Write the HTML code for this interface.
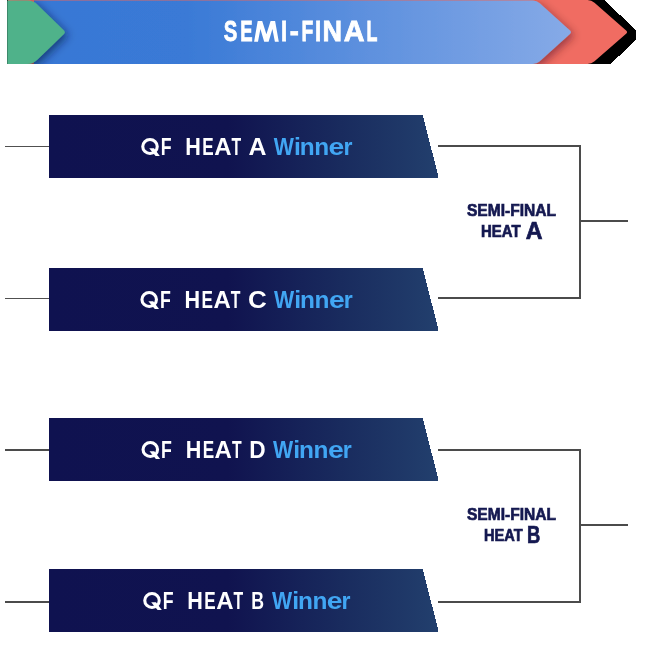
<!DOCTYPE html>
<html><head><meta charset="utf-8">
<style>
html,body{margin:0;padding:0;background:#fff;width:646px;height:672px;overflow:hidden}
svg{display:block;will-change:transform}
text{font-family:"Liberation Sans",sans-serif;font-weight:bold}
</style></head><body>
<svg width="646" height="672" viewBox="0 0 646 672">
<defs>
<linearGradient id="gb" gradientUnits="userSpaceOnUse" x1="7" y1="0" x2="571" y2="0">
<stop offset="0" stop-color="#3877d5"/>
<stop offset="0.32" stop-color="#3a7ad6"/>
<stop offset="1" stop-color="#86aae7"/>
</linearGradient>
<linearGradient id="gn" x1="0" y1="0" x2="1" y2="0">
<stop offset="0" stop-color="#0f1250"/>
<stop offset="0.46" stop-color="#10134f"/>
<stop offset="0.75" stop-color="#192b5e"/>
<stop offset="1" stop-color="#223f6d"/>
</linearGradient>
<filter id="sh" x="-20%" y="-20%" width="150%" height="150%">
<feGaussianBlur in="SourceAlpha" stdDeviation="4"/>
<feOffset dx="3" dy="3" result="b"/>
<feFlood flood-color="#0a1a40" flood-opacity="0.6"/>
<feComposite in2="b" operator="in"/>
<feMerge><feMergeNode/><feMergeNode in="SourceGraphic"/></feMerge>
</filter>
<filter id="sh2" x="-20%" y="-20%" width="150%" height="150%">
<feGaussianBlur in="SourceAlpha" stdDeviation="4"/>
<feOffset dx="3" dy="2.5" result="b"/>
<feFlood flood-color="#3a0a20" flood-opacity="0.45"/>
<feComposite in2="b" operator="in"/>
<feMerge><feMergeNode/><feMergeNode in="SourceGraphic"/></feMerge>
</filter>
<clipPath id="hc"><rect x="7" y="0" width="640" height="64"/></clipPath>
</defs>
<polygon points="7,0 604.5,0 636,30.5 636,40 610.5,64 7,64" fill="#000" shape-rendering="crispEdges"/>
<g clip-path="url(#hc)">
<path d="M8,0.1 H587.50 Q591.50,0.10 594.50,2.74 L626.12,30.55 Q628.00,32.20 626.12,33.84 L594.52,61.37 Q591.50,64.00 587.50,64.00 H8 Z" fill="#f06c62"/>
<path d="M34,0.5 H532.80 Q536.80,0.50 539.76,3.19 L569.95,30.52 Q571.80,32.20 569.95,33.88 L539.76,61.31 Q536.80,64.00 532.80,64.00 H34 Z" fill="url(#gb)" filter="url(#sh2)"/>
<path d="M7.25,0.55 H27.25 Q33.25,0.55 37.55,4.73 L64.01,30.46 Q65.80,32.20 64.01,33.94 L37.31,59.82 Q33.00,64.00 27.00,64.00 H7.25 Z" fill="#4fb28a" filter="url(#sh)"/>
</g>
<text transform="translate(223.81,41.30) scale(0.7046,1)" font-size="28.9" fill="#fff" stroke="#fff" stroke-width="0.8">S</text>
<text transform="translate(240.16,41.30) scale(0.6414,1)" font-size="28.9" fill="#fff" stroke="#fff" stroke-width="0.8">E</text>
<text transform="translate(281.11,41.30) scale(0.7687,1)" font-size="28.9" fill="#fff" stroke="#fff" stroke-width="0.8">I</text>
<text transform="translate(289.64,41.30) scale(0.9403,1)" font-size="28.9" fill="#fff" stroke="#fff" stroke-width="0.8">-</text>
<text transform="translate(301.41,41.30) scale(0.6684,1)" font-size="28.9" fill="#fff" stroke="#fff" stroke-width="0.8">F</text>
<text transform="translate(314.91,41.30) scale(0.7687,1)" font-size="28.9" fill="#fff" stroke="#fff" stroke-width="0.8">I</text>
<text transform="translate(322.59,41.30) scale(0.9358,1)" font-size="28.9" fill="#fff" stroke="#fff" stroke-width="0.8">N</text>
<text transform="translate(343.68,41.30) scale(0.9954,1)" font-size="28.9" fill="#fff" stroke="#fff" stroke-width="0.8">A</text>
<text transform="translate(366.40,41.30) scale(0.6203,1)" font-size="28.9" fill="#fff" stroke="#fff" stroke-width="0.8">L</text>
<polygon points="254.1,41.8 257.7,21 262.2,21 266.4,34.2 270.6,21 275.1,21 278.8,41.8 274.9,41.8 272.4,28.9 268.6,41.8 264.2,41.8 260.4,28.9 258,41.8" fill="#fff"/>
<g fill="url(#gn)" shape-rendering="crispEdges">
<polygon points="49,115 422.81,115 438,175.28 438,178 49,178"/>
<polygon points="49,268 422.81,268 438,328.28 438,331 49,331"/>
<polygon points="49,418 422.81,418 438,478.28 438,481 49,481"/>
<polygon points="49,569 422.81,569 438,629.28 438,632 49,632"/>
</g>
<text transform="translate(160.71,155.00) scale(0.7182,1)" font-size="24.7" fill="#fff">F</text>
<text transform="translate(185.35,155.00) scale(0.8746,1)" font-size="24.7" fill="#fff">H</text>
<text transform="translate(202.36,155.00) scale(0.6928,1)" font-size="24.7" fill="#fff">E</text>
<text transform="translate(214.20,155.00) scale(0.9716,1)" font-size="24.7" fill="#fff">A</text>
<text transform="translate(231.62,155.00) scale(0.6394,1)" font-size="24.7" fill="#fff">T</text>
<text transform="translate(248.38,155.00) scale(1.0078,1)" font-size="24.7" fill="#fff">A</text>
<g transform="translate(0,0)"><ellipse cx="150" cy="146.5" rx="7.25" ry="6.95" fill="none" stroke="#fff" stroke-width="3.1"/><polygon points="149.2,148.3 154,148.3 159.8,155.9 155.6,155.9" fill="#fff"/></g>
<text transform="translate(273.68,155.00) scale(0.8640,1)" font-size="24.7" fill="#41a6f3">W</text>
<text transform="translate(293.97,155.00) scale(1.0032,1)" font-size="24.7" fill="#41a6f3">i</text>
<text transform="translate(299.69,155.00) scale(0.9893,1)" font-size="24.7" fill="#41a6f3">n</text>
<text transform="translate(314.19,155.00) scale(0.9893,1)" font-size="24.7" fill="#41a6f3">n</text>
<text transform="translate(328.59,155.00) scale(1.1486,1)" font-size="24.7" fill="#41a6f3">e</text>
<text transform="translate(343.38,155.00) scale(0.9330,1)" font-size="24.7" fill="#41a6f3">r</text>
<text transform="translate(159.91,308.00) scale(0.7182,1)" font-size="24.7" fill="#fff">F</text>
<text transform="translate(184.55,308.00) scale(0.8746,1)" font-size="24.7" fill="#fff">H</text>
<text transform="translate(201.56,308.00) scale(0.6928,1)" font-size="24.7" fill="#fff">E</text>
<text transform="translate(213.40,308.00) scale(0.9716,1)" font-size="24.7" fill="#fff">A</text>
<text transform="translate(230.82,308.00) scale(0.6394,1)" font-size="24.7" fill="#fff">T</text>
<text transform="translate(247.93,308.00) scale(1.0527,1)" font-size="24.7" fill="#fff">C</text>
<g transform="translate(-0.8,153)"><ellipse cx="150" cy="146.5" rx="7.25" ry="6.95" fill="none" stroke="#fff" stroke-width="3.1"/><polygon points="149.2,148.3 154,148.3 159.8,155.9 155.6,155.9" fill="#fff"/></g>
<text transform="translate(273.98,308.00) scale(0.8640,1)" font-size="24.7" fill="#41a6f3">W</text>
<text transform="translate(294.27,308.00) scale(1.0032,1)" font-size="24.7" fill="#41a6f3">i</text>
<text transform="translate(299.99,308.00) scale(0.9893,1)" font-size="24.7" fill="#41a6f3">n</text>
<text transform="translate(314.49,308.00) scale(0.9893,1)" font-size="24.7" fill="#41a6f3">n</text>
<text transform="translate(328.89,308.00) scale(1.1486,1)" font-size="24.7" fill="#41a6f3">e</text>
<text transform="translate(343.68,308.00) scale(0.9330,1)" font-size="24.7" fill="#41a6f3">r</text>
<text transform="translate(161.01,458.00) scale(0.7182,1)" font-size="24.7" fill="#fff">F</text>
<text transform="translate(185.65,458.00) scale(0.8746,1)" font-size="24.7" fill="#fff">H</text>
<text transform="translate(202.66,458.00) scale(0.6928,1)" font-size="24.7" fill="#fff">E</text>
<text transform="translate(214.50,458.00) scale(0.9716,1)" font-size="24.7" fill="#fff">A</text>
<text transform="translate(231.92,458.00) scale(0.6394,1)" font-size="24.7" fill="#fff">T</text>
<text transform="translate(249.28,458.00) scale(0.9176,1)" font-size="24.7" fill="#fff">D</text>
<g transform="translate(0.3,303)"><ellipse cx="150" cy="146.5" rx="7.25" ry="6.95" fill="none" stroke="#fff" stroke-width="3.1"/><polygon points="149.2,148.3 154,148.3 159.8,155.9 155.6,155.9" fill="#fff"/></g>
<text transform="translate(273.08,458.00) scale(0.8640,1)" font-size="24.7" fill="#41a6f3">W</text>
<text transform="translate(293.37,458.00) scale(1.0032,1)" font-size="24.7" fill="#41a6f3">i</text>
<text transform="translate(299.09,458.00) scale(0.9893,1)" font-size="24.7" fill="#41a6f3">n</text>
<text transform="translate(313.59,458.00) scale(0.9893,1)" font-size="24.7" fill="#41a6f3">n</text>
<text transform="translate(327.99,458.00) scale(1.1486,1)" font-size="24.7" fill="#41a6f3">e</text>
<text transform="translate(342.78,458.00) scale(0.9330,1)" font-size="24.7" fill="#41a6f3">r</text>
<text transform="translate(162.71,609.00) scale(0.7182,1)" font-size="24.7" fill="#fff">F</text>
<text transform="translate(187.35,609.00) scale(0.8746,1)" font-size="24.7" fill="#fff">H</text>
<text transform="translate(204.36,609.00) scale(0.6928,1)" font-size="24.7" fill="#fff">E</text>
<text transform="translate(216.20,609.00) scale(0.9716,1)" font-size="24.7" fill="#fff">A</text>
<text transform="translate(233.62,609.00) scale(0.6394,1)" font-size="24.7" fill="#fff">T</text>
<text transform="translate(251.22,609.00) scale(0.7170,1)" font-size="24.7" fill="#fff">B</text>
<g transform="translate(2.0,454)"><ellipse cx="150" cy="146.5" rx="7.25" ry="6.95" fill="none" stroke="#fff" stroke-width="3.1"/><polygon points="149.2,148.3 154,148.3 159.8,155.9 155.6,155.9" fill="#fff"/></g>
<text transform="translate(271.88,609.00) scale(0.8640,1)" font-size="24.7" fill="#41a6f3">W</text>
<text transform="translate(292.17,609.00) scale(1.0032,1)" font-size="24.7" fill="#41a6f3">i</text>
<text transform="translate(297.89,609.00) scale(0.9893,1)" font-size="24.7" fill="#41a6f3">n</text>
<text transform="translate(312.39,609.00) scale(0.9893,1)" font-size="24.7" fill="#41a6f3">n</text>
<text transform="translate(326.79,609.00) scale(1.1486,1)" font-size="24.7" fill="#41a6f3">e</text>
<text transform="translate(341.58,609.00) scale(0.9330,1)" font-size="24.7" fill="#41a6f3">r</text>

<g fill="#505050" shape-rendering="crispEdges">
<rect x="5" y="146" width="44" height="1"/>
<rect x="5" y="298" width="44" height="1"/>
</g>
<g fill="#4b4b4b" shape-rendering="crispEdges">
<rect x="5" y="449" width="44" height="2"/>
<rect x="5" y="601" width="44" height="2"/>
<rect x="438" y="145" width="143" height="2"/>
<rect x="438" y="297" width="143" height="2"/>
<rect x="579" y="145" width="2" height="154"/>
<rect x="581" y="220" width="47" height="2"/>
<rect x="438" y="449" width="143" height="2"/>
<rect x="438" y="601" width="143" height="2"/>
<rect x="579" y="449" width="2" height="154"/>
<rect x="581" y="524" width="47" height="2"/>
</g>
<text x="466.96" y="215.60" font-size="17.02" fill="#141850" textLength="88.95" lengthAdjust="spacingAndGlyphs" stroke="#141850" stroke-width="0.7">SEMI-FINAL</text>
<text x="481.00" y="236.80" font-size="15.86" fill="#141850" textLength="39.52" lengthAdjust="spacingAndGlyphs" stroke="#141850" stroke-width="0.7">HEAT</text>
<text x="525.68" y="238.70" font-size="23.15" fill="#141850" textLength="16.78" lengthAdjust="spacingAndGlyphs" stroke="#141850" stroke-width="0.7">A</text>
<text x="466.96" y="519.60" font-size="17.02" fill="#141850" textLength="88.95" lengthAdjust="spacingAndGlyphs" stroke="#141850" stroke-width="0.7">SEMI-FINAL</text>
<text x="484.08" y="540.80" font-size="15.90" fill="#141850" textLength="38.59" lengthAdjust="spacingAndGlyphs" stroke="#141850" stroke-width="0.7">HEAT</text>
<text x="527.00" y="542.70" font-size="24.11" fill="#141850" textLength="13.34" lengthAdjust="spacingAndGlyphs" stroke="#141850" stroke-width="0.7">B</text>

</svg>
</body></html>
